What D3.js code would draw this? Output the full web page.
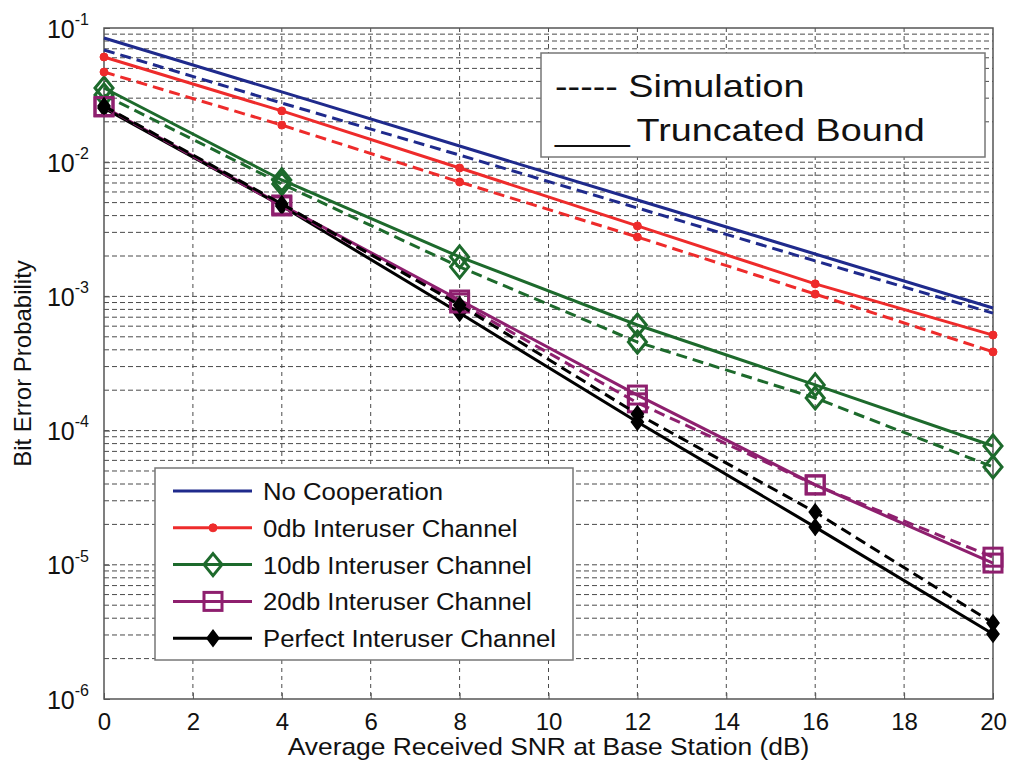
<!DOCTYPE html>
<html>
<head>
<meta charset="utf-8">
<script src="https://cdn.jsdelivr.net/npm/d3@7"></script>
<style>
  html, body { margin: 0; padding: 0; background: #ffffff; }
  svg { display: block; font-family: "Liberation Sans", Arial, sans-serif; }
</style>
</head>
<body>
<svg id="chart" width="1010" height="770"></svg>
<script>
// SNR sample points (dB)
const snrDb = [0, 4, 8, 12, 16, 20];
const xTickValues = [0, 2, 4, 6, 8, 10, 12, 14, 16, 18, 20];
const yDecadeExponents = [-1, -2, -3, -4, -5, -6];

// Bit error probability, truncated bound (solid) and simulation (dashed)
const noCoopBound   = [0.0842, 0.0334, 0.0132, 0.00523, 0.00207, 0.00082];
const noCoopSim     = [0.0686, 0.0276, 0.0113, 0.00456, 0.00184, 0.00075];
const ch0Bound      = [0.0608, 0.0241, 0.00906, 0.00335, 0.00124, 0.000515];
const ch0Sim        = [0.0470, 0.0189, 0.00712, 0.00277, 0.00104, 0.000386];
const ch10Bound     = [0.0357, 0.00737, 0.00197, 0.000612, 0.000219, 0.0000768];
const ch10Sim       = [0.0317, 0.00689, 0.00166, 0.000457, 0.000175, 0.0000536];
const ch20Bound     = [0.0258, 0.00480, 0.00094, 0.000184, 0.0000394, 0.0000103];
const ch20Sim       = [0.0260, 0.00472, 0.000893, 0.000161, 0.0000394, 0.0000114];
const perfectBound  = [0.0253, 0.00472, 0.000752, 0.000116, 0.0000191, 0.00000305];
const perfectSim    = [0.0262, 0.00489, 0.000863, 0.000133, 0.0000247, 0.00000368];

const seriesNames = [
  "No Cooperation",
  "0db Interuser Channel",
  "10db Interuser Channel",
  "20db Interuser Channel",
  "Perfect Interuser Channel"
];
const seriesColors = ["#1f2a8c", "#ee2b2b", "#1d6a2c", "#8e1f6e", "#000000"];
const seriesMarkers = ["none", "dot", "diamond", "square", "filledDiamond"];
const boundValues = [noCoopBound, ch0Bound, ch10Bound, ch20Bound, perfectBound];
const simValues = [noCoopSim, ch0Sim, ch10Sim, ch20Sim, perfectSim];

const styleKeys = ["-----", "____"];
const styleLabels = ["Simulation", "Truncated Bound"];
const xAxisTitle = "Average Received SNR at Base Station (dB)";
const yAxisTitle = "Bit Error Probability";

const svg = d3.select("#chart");
const margin = { left: 104, top: 28, right: 1010 - 993, bottom: 770 - 699 };
const W = 1010 - margin.left - margin.right;
const H = 770 - margin.top - margin.bottom;

const x = d3.scaleLinear().domain([0, 20]).range([0, W]);
const y = d3.scaleLog().domain([1e-6, 1e-1]).range([H, 0]);

const g = svg.append("g").attr("transform", `translate(${margin.left},${margin.top})`);

// grid: vertical lines at every x tick, horizontal at every decade and sub-decade
const gridColor = "#4a4a4a";
const gridDash = "5,3";
const minorY = [];
for (let e = -6; e < -1; e++) {
  for (let k = 1; k <= 9; k++) {
    const v = k * Math.pow(10, e);
    if (v > 1e-6 && v < 1e-1) minorY.push(v);
  }
}
g.append("g").selectAll("line").data(minorY).join("line")
  .attr("x1", 0).attr("x2", W)
  .attr("y1", d => y(d)).attr("y2", d => y(d))
  .attr("stroke", gridColor).attr("stroke-width", 1).attr("stroke-dasharray", gridDash);
g.append("g").selectAll("line").data(xTickValues.slice(1, -1)).join("line")
  .attr("x1", d => x(d)).attr("x2", d => x(d))
  .attr("y1", 0).attr("y2", H)
  .attr("stroke", gridColor).attr("stroke-width", 1).attr("stroke-dasharray", "4,4");

// plot frame with inward ticks
g.append("rect").attr("x", 0).attr("y", 0).attr("width", W).attr("height", H)
  .attr("fill", "none").attr("stroke", "#555").attr("stroke-width", 1.5);

const xAxis = d3.axisBottom(x).tickValues(xTickValues).tickSize(-6).tickPadding(14)
  .tickFormat(d3.format("d"));
const xg = g.append("g").attr("transform", `translate(0,${H})`).call(xAxis);
xg.select(".domain").remove();
xg.selectAll("line").attr("stroke", "#555");
xg.selectAll("text").attr("font-size", 24).attr("fill", "#111")
  .attr("font-family", "Liberation Sans, Arial, sans-serif");

const yAxis = d3.axisLeft(y).tickValues(yDecadeExponents.map(e => Math.pow(10, e)))
  .tickSize(-6).tickFormat("");
const yg = g.append("g").call(yAxis);
yg.select(".domain").remove();
yg.selectAll("line").attr("stroke", "#555");
yg.selectAll(".tick").each(function (d) {
  const t = d3.select(this).append("text")
    .attr("x", -15).attr("dy", "0.36em")
    .attr("text-anchor", "end").attr("fill", "#111")
    .attr("font-size", 25);
  t.append("tspan").text("10");
  t.append("tspan").attr("font-size", 16).attr("dy", "-0.8em")
    .text(String(Math.round(Math.log10(d))));
});

// series lines
const line = d3.line().x((d, i) => x(snrDb[i])).y(d => y(d));

function drawMarker(sel, kind, color) {
  if (kind === "dot") {
    sel.append("circle").attr("r", 4).attr("fill", color).attr("stroke", color);
  } else if (kind === "diamond") {
    sel.append("path").attr("d", "M0,-11 L9,0 L0,11 L-9,0 Z")
      .attr("fill", "none").attr("stroke", color).attr("stroke-width", 3);
  } else if (kind === "square") {
    sel.append("rect").attr("x", -9).attr("y", -9).attr("width", 18).attr("height", 18)
      .attr("fill", "none").attr("stroke", color).attr("stroke-width", 3);
  } else if (kind === "filledDiamond") {
    sel.append("path").attr("d", "M0,-8 L6,0 L0,8 L-6,0 Z")
      .attr("fill", color).attr("stroke", color).attr("stroke-width", 1.5);
  }
}

const plots = g.append("g");
[[boundValues, null], [simValues, "11,6"]].forEach(([sets, dash]) => {
  sets.forEach((vals, si) => {
    const p = plots.append("path").datum(vals)
      .attr("d", line).attr("fill", "none")
      .attr("stroke", seriesColors[si]).attr("stroke-width", 3);
    if (dash) p.attr("stroke-dasharray", dash);
    if (seriesMarkers[si] !== "none") {
      vals.forEach((v, i) => {
        const m = plots.append("g").attr("transform", `translate(${x(snrDb[i])},${y(v)})`);
        drawMarker(m, seriesMarkers[si], seriesColors[si]);
      });
    }
  });
});

// line-style legend (top right)
const lg1 = svg.append("g");
lg1.append("rect").attr("x", 541).attr("y", 53).attr("width", 444).attr("height", 104)
  .attr("fill", "#fff").attr("stroke", "#777").attr("stroke-width", 1.5);
styleLabels.forEach((label, i) => {
  const t = lg1.append("text").attr("transform", `translate(555,${97 + i * 44}) scale(1.18,1)`)
    .attr("font-size", 32).attr("fill", "#111");
  t.append("tspan").attr("letter-spacing", i === 1 ? -2.6 : 0).text(styleKeys[i]);
  t.append("tspan").text(" " + label);
});

// series legend (lower left)
const lg2 = svg.append("g");
lg2.append("rect").attr("x", 155).attr("y", 468).attr("width", 418).attr("height", 192)
  .attr("fill", "#fff").attr("stroke", "#777").attr("stroke-width", 1.5);
seriesNames.forEach((name, i) => {
  const cy = 491 + i * 36.8;
  lg2.append("line").attr("x1", 173).attr("x2", 252).attr("y1", cy).attr("y2", cy)
    .attr("stroke", seriesColors[i]).attr("stroke-width", 3);
  if (seriesMarkers[i] !== "none") {
    drawMarker(lg2.append("g").attr("transform", `translate(213,${cy})`), seriesMarkers[i], seriesColors[i]);
  }
  lg2.append("text").attr("transform", `translate(263,${cy + 9}) scale(1.05,1)`)
    .attr("font-size", 24.5).attr("fill", "#111").text(name);
});

// axis titles
svg.append("text").attr("transform", `translate(${margin.left + W / 2},755) scale(1.1,1)`)
  .attr("text-anchor", "middle").attr("font-size", 24).attr("fill", "#111")
  .text(xAxisTitle);
svg.append("text").attr("transform", `translate(31,${margin.top + H / 2}) rotate(-90)`)
  .attr("text-anchor", "middle").attr("font-size", 24).attr("fill", "#111")
  .text(yAxisTitle);
</script>
</body>
</html>
